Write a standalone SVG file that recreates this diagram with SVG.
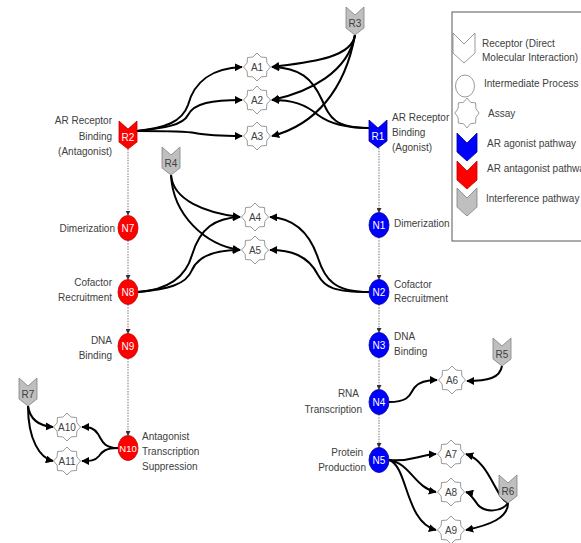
<svg xmlns="http://www.w3.org/2000/svg" xmlns:xlink="http://www.w3.org/1999/xlink" width="581" height="543" viewBox="0 0 581 543">
<style>
text{font-family:"Liberation Sans",Arial,sans-serif;font-size:10px;fill:#404040}
.lab{fill:#404040}
.r{text-anchor:end}
.c{text-anchor:middle}
.w{fill:#ffffff}
.red{fill:#ff0000;stroke:#c00000;stroke-width:0.8}
.blue{fill:#0000ff;stroke:#000090;stroke-width:0.8}
.gray{fill:#bfbfbf;stroke:#808080;stroke-width:0.8}
.wht{fill:#ffffff;stroke:#808080;stroke-width:0.8}
.star{fill:#ffffff;stroke:#808080;stroke-width:0.8}
.e{fill:none;stroke:#000;stroke-width:2;marker-end:url(#arr)}
.d{fill:none;stroke:#a6a6a6;stroke-width:1.5;stroke-dasharray:1.5 1.2;marker-end:url(#darr)}
</style>
<defs>
<marker id="arr" viewBox="0 0 10 10" refX="9" refY="5" markerWidth="8" markerHeight="8" markerUnits="userSpaceOnUse" orient="auto"><path d="M0,0 L10,5 L0,10 z" fill="#000"/></marker>
<marker id="darr" viewBox="0 0 10 10" refX="9" refY="5" markerWidth="5" markerHeight="5" markerUnits="userSpaceOnUse" orient="auto"><path d="M0,0 L10,5 L0,10 z" fill="#333"/></marker>
<polygon id="chev" points="-9,0 0,8 9,0 9,21 0,28 -9,21"/>
<polygon id="chevL" points="-10,0 0,10 10,0 10,19 0,28 -10,19"/>
<polygon id="star" points="0,-14 4.1,-9.9 9.5,-9.5 9.9,-4.1 13.5,0 9.9,4.1 9.5,9.5 4.1,9.9 0,14 -4.1,9.9 -9.5,9.5 -9.9,4.1 -13.5,0 -9.9,-4.1 -9.5,-9.5 -4.1,-9.9"/>
</defs>
<rect width="581" height="543" fill="#ffffff"/>

<g id="connectors">
<path class="d" d="M128,149 L128,215"/>
<path class="d" d="M128,240.5 L128,279.5"/>
<path class="d" d="M128,304.5 L128,333.5"/>
<path class="d" d="M128,358.5 L128,435.5"/>
<path class="d" d="M379,148 L379,212.5"/>
<path class="d" d="M379,237.5 L379,279.5"/>
<path class="d" d="M379,304.5 L379,332.5"/>
<path class="d" d="M379,357.5 L379,389.5"/>
<path class="d" d="M379,414.5 L379,447.5"/>

<path class="e" d="M137,131 C165,128 182,122 188,105 C194,82 212,68 242,67"/>
<path class="e" d="M137,131 C165,128 183,125 188,115 C194,103 212,100 242,100"/>
<path class="e" d="M137,131 C170,131 185,131 195,133 C210,136 225,136 242,136"/>
<path class="e" d="M355,35 C352,58 310,62 272,67"/>
<path class="e" d="M355,35 C348,72 310,92 272,100"/>
<path class="e" d="M355,35 C345,90 315,125 272,136"/>
<path class="e" d="M369,128 C335,128 330,118 322,100 C312,78 300,68 272,67"/>
<path class="e" d="M369,128 C345,128 330,124 318,115 C305,104 292,100 272,100"/>
<path class="e" d="M171,175 C173,200 205,213 240,217"/>
<path class="e" d="M171,175 C173,215 205,245 240,250"/>
<path class="e" d="M138,292 C165,290 185,280 192,255 C200,228 215,218 240,217"/>
<path class="e" d="M138,292 C168,289 186,285 192,270 C198,256 215,250 240,250"/>
<path class="e" d="M369,292 C335,292 325,280 318,258 C308,228 290,218 270,217"/>
<path class="e" d="M369,292 C335,292 325,288 318,275 C308,255 290,250 270,250"/>
<path class="e" d="M389,402 C412,402 410,392 415,387 C420,381 428,380 437,380"/>
<path class="e" d="M502,366 C500,378 488,381 467,381"/>
<path class="e" d="M389,460 C412,462 418,455 436,454"/>
<path class="e" d="M389,460 C410,463 415,488 436,492"/>
<path class="e" d="M389,460 C408,466 405,522 436,530"/>
<path class="e" d="M508,503 C495,497 490,462 466,454"/>
<path class="e" d="M508,503 C502,512 485,513 478,505 C472,497 470,493 466,492"/>
<path class="e" d="M508,503 C508,518 490,525 466,530"/>
<path class="e" d="M28,406 C30,420 40,426 53,427"/>
<path class="e" d="M28,406 C28,440 40,458 53,461"/>
<path class="e" d="M118,448 C103,448 102,440 98,434 C94,428 90,427 82,427"/>
<path class="e" d="M118,448 C105,448 102,452 99,456 C95,461 90,461 82,461"/>
</g>

<g id="R2"><use xlink:href="#chev" x="128" y="121" class="red"/><text class="c w" x="128" y="141">R2</text>
<text class="r" x="112" y="124">AR Receptor</text><text class="r" x="112" y="140">Binding</text><text class="r" x="112" y="155">(Antagonist)</text></g>
<g id="R1"><use xlink:href="#chev" x="378" y="120" class="blue"/><text class="c w" x="378" y="140">R1</text>
<text x="392" y="121">AR Receptor</text><text x="392" y="136">Binding</text><text x="392" y="151">(Agonist)</text></g>
<g id="R3"><use xlink:href="#chev" x="355" y="7" class="gray"/><text class="c" x="355" y="27">R3</text></g>
<g id="R4"><use xlink:href="#chev" x="171" y="147" class="gray"/><text class="c" x="171" y="167">R4</text></g>
<g id="R5"><use xlink:href="#chev" x="502" y="338" class="gray"/><text class="c" x="502" y="358">R5</text></g>
<g id="R6"><use xlink:href="#chev" x="508" y="475" class="gray"/><text class="c" x="508" y="495">R6</text></g>
<g id="R7"><use xlink:href="#chev" x="28" y="378" class="gray"/><text class="c" x="28" y="398">R7</text></g>

<g id="N7"><ellipse cx="128" cy="228" rx="10" ry="12.5" class="red"/><text class="c w" x="128" y="231.5">N7</text>
<text class="r" x="115" y="232">Dimerization</text></g>
<g id="N8"><ellipse cx="128" cy="292" rx="10" ry="12.5" class="red"/><text class="c w" x="128" y="295.5">N8</text>
<text class="r" x="112" y="286">Cofactor</text><text class="r" x="112" y="301">Recruitment</text></g>
<g id="N9"><ellipse cx="128" cy="346" rx="10" ry="12.5" class="red"/><text class="c w" x="128" y="349.5">N9</text>
<text class="r" x="112" y="344">DNA</text><text class="r" x="112" y="359">Binding</text></g>
<g id="N10"><ellipse cx="128" cy="448" rx="10" ry="12.5" class="red"/><text class="c w" x="128" y="451.5" style="font-size:9.5px">N10</text>
<text x="142" y="440">Antagonist</text><text x="142" y="455">Transcription</text><text x="142" y="470">Suppression</text></g>

<g id="N1"><ellipse cx="379" cy="225" rx="10" ry="12.5" class="blue"/><text class="c w" x="379" y="228.5">N1</text>
<text x="394" y="227">Dimerization</text></g>
<g id="N2"><ellipse cx="379" cy="292" rx="10" ry="12.5" class="blue"/><text class="c w" x="379" y="295.5">N2</text>
<text x="394" y="288">Cofactor</text><text x="394" y="302">Recruitment</text></g>
<g id="N3"><ellipse cx="379" cy="345" rx="10" ry="12.5" class="blue"/><text class="c w" x="379" y="348.5">N3</text>
<text x="394" y="340">DNA</text><text x="394" y="355">Binding</text></g>
<g id="N4"><ellipse cx="379" cy="402" rx="10" ry="12.5" class="blue"/><text class="c w" x="379" y="405.5">N4</text>
<text class="r" x="359" y="397">RNA</text><text class="r" x="362" y="413">Transcription</text></g>
<g id="N5"><ellipse cx="379" cy="460" rx="10" ry="12.5" class="blue"/><text class="c w" x="379" y="463.5">N5</text>
<text class="r" x="363" y="456">Protein</text><text class="r" x="366" y="471">Production</text></g>

<g id="A1"><use xlink:href="#star" x="257" y="67" class="star"/><text class="c" x="257" y="70.5">A1</text></g>
<g id="A2"><use xlink:href="#star" x="257" y="100" class="star"/><text class="c" x="257" y="103.5">A2</text></g>
<g id="A3"><use xlink:href="#star" x="257" y="136" class="star"/><text class="c" x="257" y="139.5">A3</text></g>
<g id="A4"><use xlink:href="#star" x="255" y="217" class="star"/><text class="c" x="255" y="220.5">A4</text></g>
<g id="A5"><use xlink:href="#star" x="255" y="250" class="star"/><text class="c" x="255" y="253.5">A5</text></g>
<g id="A6"><use xlink:href="#star" x="452" y="380" class="star"/><text class="c" x="452" y="383.5">A6</text></g>
<g id="A7"><use xlink:href="#star" x="451" y="454" class="star"/><text class="c" x="451" y="457.5">A7</text></g>
<g id="A8"><use xlink:href="#star" x="451" y="492" class="star"/><text class="c" x="451" y="495.5">A8</text></g>
<g id="A9"><use xlink:href="#star" x="451" y="530" class="star"/><text class="c" x="451" y="533.5">A9</text></g>
<g id="A10"><use xlink:href="#star" x="67" y="427" class="star"/><text class="c" x="67" y="430.5">A10</text></g>
<g id="A11"><use xlink:href="#star" x="67" y="461" class="star"/><text class="c" x="67" y="464.5">A11</text></g>

<g id="legend">
<rect x="452" y="12" width="140" height="229" fill="#ffffff" stroke="#595959" stroke-width="1"/>
<polygon points="453,33 464,44 475,33 475,53 464,63 453,53" class="wht"/>
<text x="482" y="47">Receptor (Direct</text><text x="482" y="61">Molecular Interaction)</text>
<ellipse cx="465" cy="86" rx="9.5" ry="11" class="wht"/>
<text x="484" y="87">Intermediate Process</text>
<use xlink:href="#star" x="467" y="113" class="star" transform="translate(467 113) scale(0.9 1.07) translate(-467 -113)"/>
<text x="488" y="117">Assay</text>
<use xlink:href="#chevL" x="467" y="133" class="blue"/>
<text x="487" y="147">AR agonist pathway</text>
<use xlink:href="#chevL" x="467" y="161" class="red"/>
<text x="487" y="172">AR antagonist pathway</text>
<use xlink:href="#chevL" x="467" y="188" class="gray"/>
<text x="486" y="202">Interference pathway</text>
</g>
</svg>
